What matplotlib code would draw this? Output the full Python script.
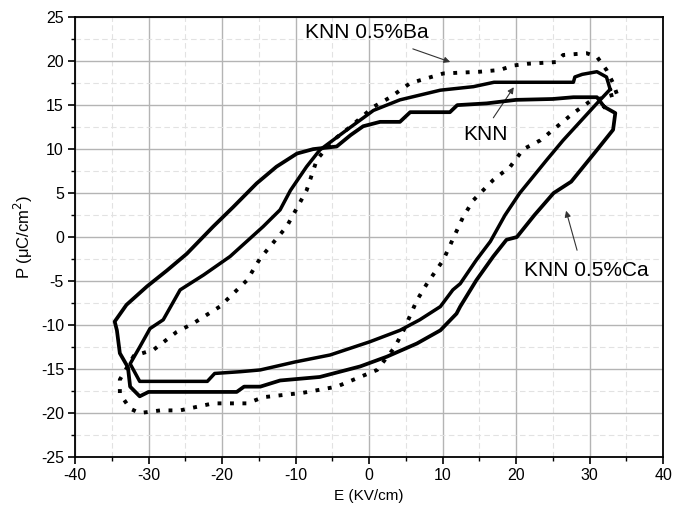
import matplotlib
matplotlib.use("Agg")
import matplotlib.pyplot as plt
from matplotlib.ticker import MultipleLocator

plt.rcParams['font.family'] = ['Liberation Sans', 'DejaVu Sans']
plt.rcParams['axes.unicode_minus'] = False

# P-E hysteresis loops, each listed tip -> upper branch -> lower branch -> tip
knn_E = [32.8, 32.3, 31.0, 29.0, 28.0, 27.8, 17.0, 14.2, 9.7, 4.2, 0.6, -3.0, -6.7, -8.5,
         -10.7, -12.1, -14.4, -18.9, -22.5, -25.7, -28.0, -29.8, -31.2, -32.5,
         -31.2, -22.0, -21.0, -17.5, -14.8, -10.1, -5.3, 0.1, 4.2, 6.9, 9.7, 11.4, 12.4,
         14.6, 16.5, 18.5, 20.5, 24.2, 26.4, 31.0, 32.8]
knn_P = [16.8, 18.2, 18.8, 18.5, 18.2, 17.6, 17.6, 17.1, 16.7, 15.6, 14.4, 12.2, 9.9, 8.0,
         5.3, 3.1, 1.2, -2.2, -4.3, -6.0, -9.4, -10.4, -12.5, -14.4,
         -16.4, -16.4, -15.5, -15.3, -15.1, -14.2, -13.4, -11.9, -10.6, -9.4, -7.9, -6.0, -5.3,
         -2.6, -0.5, 2.5, 5.0, 8.8, 11.0, 15.2, 16.8]

ca_E = [32.0, 31.0, 27.8, 25.0, 20.0, 16.0, 12.0, 11.0, 5.6, 4.2, 1.5, -0.8, -2.5, -4.4,
        -7.6, -9.8, -12.6, -15.3, -18.5, -21.2, -24.8, -27.5, -30.2, -33.0, -34.6, -34.3,
        -33.9, -32.8,
        -32.5, -31.2, -30.0, -18.0, -17.0, -14.8, -12.1, -6.7, -1.2, 2.4, 6.5, 9.7, 11.9,
        12.4, 14.6, 16.9, 18.7, 20.1, 22.5, 25.1, 27.5, 31.0, 33.2, 33.5, 32.0]
ca_P = [14.8, 15.9, 15.9, 15.7, 15.6, 15.2, 15.0, 14.2, 14.2, 13.1, 13.1, 12.6, 11.6, 10.3,
        10.0, 9.5, 8.0, 6.1, 3.4, 1.2, -1.9, -3.8, -5.6, -7.7, -9.6, -10.6,
        -13.2, -14.8,
        -17.0, -18.1, -17.6, -17.6, -17.0, -17.0, -16.3, -15.9, -14.7, -13.6, -12.1, -10.6, -8.7,
        -7.9, -4.9, -2.2, -0.3, 0.0, 2.5, 5.0, 6.3, 9.9, 12.2, 14.1, 14.8]

ba_E = [33.7, 33.2, 32.3, 31.0, 29.6, 26.4, 25.5, 21.5, 19.6, 17.8, 15.1, 10.1, 5.6, 2.9,
        0.6, -2.6, -4.9, -7.1, -8.5, -11.2, -14.8, -16.6, -20.3, -23.9, -26.2, -29.3,
        -32.0, -33.9, -33.9, -32.5,
        -31.2, -28.4, -25.7, -21.2, -16.6, -14.4, -9.0, -4.4, 1.1, 3.5, 4.7, 6.5, 7.8,
        10.1, 12.8, 14.2, 16.9, 19.2, 21.0, 23.3, 27.8, 30.0, 33.7]
ba_P = [16.3, 17.5, 19.0, 20.5, 20.9, 20.7, 19.9, 19.7, 19.5, 19.0, 18.8, 18.6, 17.5, 15.9,
        14.8, 12.5, 11.0, 8.8, 5.3, 1.2, -2.4, -4.9, -7.9, -9.8, -10.8, -12.8,
        -13.5, -16.2, -17.8, -19.5,
        -20.0, -19.7, -19.7, -18.9, -18.9, -18.2, -17.7, -17.0, -15.1, -12.5, -10.6, -7.2, -5.4,
        -2.6, 2.3, 4.2, 6.5, 8.0, 10.0, 11.0, 14.1, 15.4, 16.3]

fig = plt.figure(figsize=(6.85, 5.05), dpi=100)
ax = fig.add_axes([0.1095, 0.095, 0.8585, 0.871])

ax.plot(ba_E, ba_P, color='black', lw=2.8, ls=(0, (1, 2.2)), zorder=3)
ax.plot(ca_E, ca_P, color='black', lw=2.7, ls='-', zorder=4)
ax.plot(knn_E, knn_P, color='black', lw=2.5, ls='-', zorder=5)

ax.set_xlim(-40, 40)
ax.set_ylim(-25, 25)
ax.xaxis.set_major_locator(MultipleLocator(10))
ax.xaxis.set_minor_locator(MultipleLocator(5))
ax.yaxis.set_major_locator(MultipleLocator(5))
ax.yaxis.set_minor_locator(MultipleLocator(2.5))

ax.grid(which='major', color='#b4b4b4', lw=1.0, ls='-', zorder=0)
ax.grid(which='minor', color='#e2e2e2', lw=0.8, ls=(0, (5, 3)), zorder=0)
ax.set_axisbelow(True)

ax.tick_params(which='major', direction='out', length=5, width=1.2, labelsize=11.5,
               top=False, right=False, pad=3)
ax.tick_params(which='minor', direction='out', length=3, width=1.0, top=False, right=False)
for s in ax.spines.values():
    s.set_linewidth(1.3)

ax.set_xlabel('E (KV/cm)', fontsize=11, labelpad=4)
ax.set_ylabel('P (μC/cm$^2$)', fontsize=12, labelpad=4)

arrow = dict(arrowstyle='-|>', color='#333333', lw=0.8, mutation_scale=9)
ax.annotate('', xy=(11.4, 19.8), xytext=(5.6, 21.5), arrowprops=arrow)
ax.text(-0.3, 23.3, 'KNN 0.5%Ba', fontsize=15, ha='center', va='center')
ax.annotate('', xy=(19.9, 17.3), xytext=(16.7, 13.3), arrowprops=arrow)
ax.text(15.8, 11.7, 'KNN', fontsize=15, ha='center', va='center')
ax.annotate('', xy=(26.7, 3.3), xytext=(28.4, -1.8), arrowprops=arrow)
ax.text(29.5, -3.75, 'KNN 0.5%Ca', fontsize=15, ha='center', va='center')

fig.savefig('out.png', dpi=100)
